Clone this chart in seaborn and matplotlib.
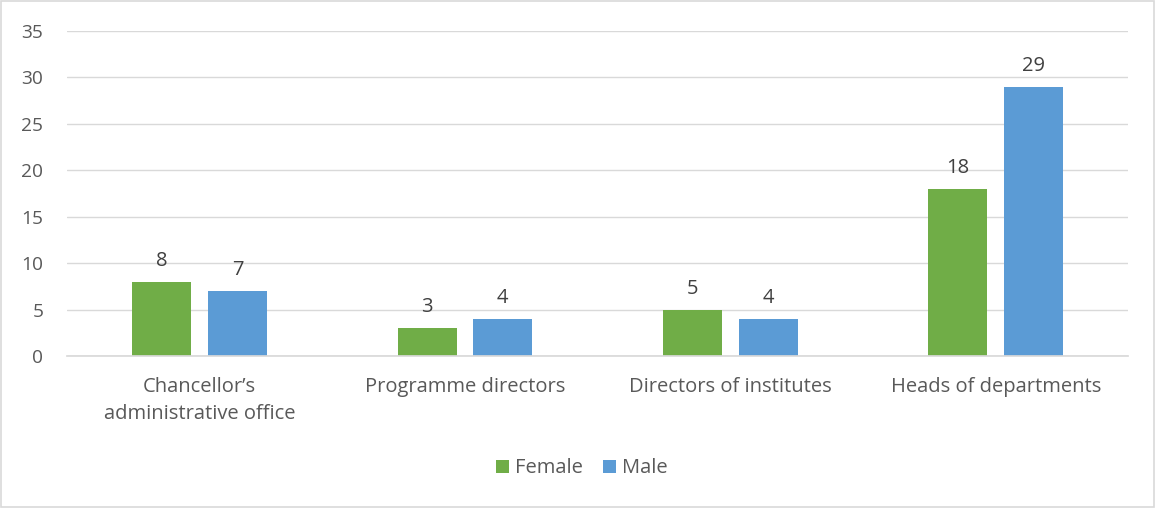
import matplotlib
matplotlib.use("Agg")
import matplotlib.pyplot as plt
import seaborn as sns
import pandas as pd

categories = ["Chancellor\u2019s\nadministrative office", "Programme directors",
              "Directors of institutes", "Heads of departments"]
female = [8, 3, 5, 18]
male = [7, 4, 4, 29]
series = ["Female", "Male"]
colors = ["#70AD47", "#5B9BD5"]
yticks = [0, 5, 10, 15, 20, 25, 30, 35]

df = pd.DataFrame({
    "category": categories * 2,
    "value": female + male,
    "sex": [series[0]] * len(categories) + [series[1]] * len(categories),
})

sns.set_theme(style="white")
plt.rcParams['font.family'] = ['Open Sans', 'DejaVu Sans']
textc = "#595959"
fs = 14.5

fig = plt.figure(figsize=(11.55, 5.08), dpi=100)
ax = fig.add_axes([0.058, 0.299, 0.919, 0.640])
sns.barplot(data=df, x="category", y="value", hue="sex", order=categories,
            hue_order=series, palette=colors, width=0.57, gap=0.22,
            saturation=1, linewidth=0, ax=ax, legend=True)

for c in ax.containers:
    ax.bar_label(c, padding=8, fontsize=fs, color="#404040")

ax.set_ylim(0, 35)
ax.set_yticks(yticks)
ax.set_xlim(-0.5, 3.5)
ax.yaxis.grid(True, color="#D9D9D9", linewidth=1)
ax.set_axisbelow(True)
for s in ["top", "right", "left"]:
    ax.spines[s].set_visible(False)
ax.spines["bottom"].set_color("#D9D9D9")
ax.tick_params(axis="both", length=0, labelsize=fs, colors=textc)
ax.tick_params(axis="y", labelsize=13.8, pad=17)
ax.tick_params(axis="x", pad=15)
for t in ax.get_xticklabels():
    t.set_linespacing(1.45)
ax.set_xlabel("")
ax.set_ylabel("")

h, l = ax.get_legend_handles_labels()
ax.legend_.remove()
fig.legend(h, l, loc="center", bbox_to_anchor=(0.504, 0.078), ncol=2, frameon=False,
           fontsize=fs, labelcolor=textc, handlelength=0.65, handleheight=0.65,
           handletextpad=0.3, columnspacing=1.0)

fig.patches.append(plt.Rectangle((0.001, 0.001), 0.998, 0.998, transform=fig.transFigure,
                                 fill=False, edgecolor="#D9D9D9", linewidth=1.2))
fig.savefig("out.png", dpi=100, facecolor="white")
